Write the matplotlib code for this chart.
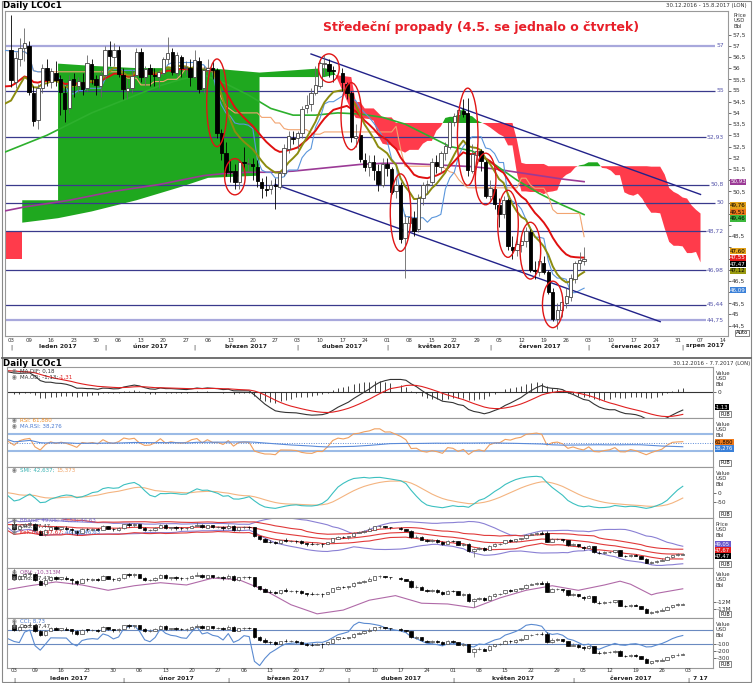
import numpy as np
import pandas as pd
import matplotlib
matplotlib.use("Agg")
import matplotlib.pyplot as plt
from matplotlib.patches import Ellipse, Rectangle
from matplotlib.lines import Line2D

plt.rcParams['font.family'] = ['DejaVu Sans']

W, H = 753, 683

# ---------------- data ----------------
holidays = ["2017-01-02", "2017-04-14"]

opens = [56.60,
         56.82, 55.40, 56.40, 56.90,
         57.00, 54.90, 53.70, 55.10, 56.00,
         55.40, 55.80, 55.50, 54.90, 54.20,
         55.50, 55.20, 55.40, 55.10, 56.20,
         55.50, 55.20, 55.70, 56.80, 56.50,
         56.80, 55.70, 55.00, 55.10, 55.70,
         56.70, 55.60, 56.00, 55.70, 55.60,
         55.80, 56.40, 56.70, 55.80, 56.50,
         56.00, 56.00, 55.60, 56.30, 55.10,
         55.90, 56.00, 55.90, 53.10, 52.20,
         51.40, 51.40, 50.90, 51.80, 51.70,
         51.70, 51.60, 50.90, 50.60, 50.60,
         50.80, 50.70, 51.30, 52.40, 52.90,
         52.90, 53.10, 54.20, 54.40, 54.90,
         55.20, 56.20, 56.20, 55.90,
         55.80, 55.30, 54.90, 52.90, 53.00,
         51.90, 51.60, 51.80, 51.40, 50.80,
         51.70, 51.50, 50.50, 50.80, 48.40,
         49.10, 49.30, 48.80, 50.20, 50.80,
         50.90, 51.80, 51.60, 52.20, 52.50,
         53.60, 53.90, 54.10, 54.00, 51.40,
         52.10, 52.30, 51.80, 50.30, 50.60,
         49.90, 49.50, 50.10, 48.00, 47.90,
         48.10, 48.30, 48.70, 47.00, 46.90,
         47.30, 46.90, 46.00, 44.80, 45.20,
         45.50, 45.80, 46.60, 47.30, 47.40]
highs = [57.20,
         58.37, 56.70, 57.35, 57.80,
         57.20, 55.20, 55.30, 56.20, 56.40,
         56.00, 56.30, 55.70, 55.20, 55.70,
         55.80, 55.60, 55.80, 56.60, 56.40,
         55.70, 55.90, 57.00, 57.20, 57.10,
         57.00, 56.00, 55.50, 55.90, 56.90,
         56.90, 56.10, 56.20, 56.00, 55.90,
         56.50, 57.40, 56.90, 56.70, 56.60,
         56.30, 56.40, 56.80, 56.50, 56.10,
         56.40, 56.30, 56.00, 53.30, 52.70,
         51.90, 51.70, 51.90, 52.50, 52.00,
         52.00, 51.90, 51.10, 51.20, 51.00,
         51.10, 51.40, 52.60, 53.20, 53.20,
         53.20, 54.30, 54.80, 55.10, 56.10,
         56.30, 56.60, 56.40, 56.10,
         56.00, 55.40, 55.00, 53.50, 53.20,
         52.20, 52.10, 52.10, 51.70, 52.00,
         52.00, 51.60, 51.10, 50.90, 49.50,
         49.90, 49.60, 50.40, 50.90, 51.00,
         52.00, 52.10, 52.30, 52.70, 53.70,
         54.00, 54.30, 54.60, 54.67, 52.60,
         52.60, 52.40, 51.90, 51.00, 50.80,
         50.20, 50.30, 50.20, 48.50, 48.50,
         48.50, 48.90, 48.80, 47.40, 47.50,
         47.60, 47.00, 46.20, 45.50, 45.80,
         46.20, 46.80, 47.40, 47.80, 48.00]
lows = [56.40,
        55.17, 55.10, 56.10, 56.30,
        54.80, 53.40, 53.30, 54.90, 55.20,
        55.10, 55.20, 53.90, 53.60, 54.00,
        54.70, 54.90, 54.80, 55.00, 55.30,
        54.80, 54.70, 55.50, 56.10, 56.10,
        55.60, 54.60, 54.60, 54.90, 55.60,
        55.40, 55.20, 55.20, 55.20, 55.10,
        55.70, 56.20, 55.70, 55.60, 55.60,
        55.70, 55.20, 55.50, 54.90, 54.90,
        55.40, 55.50, 52.90, 51.90, 51.20,
        50.90, 50.60, 50.60, 51.40, 51.40,
        51.00, 50.70, 50.20, 50.30, 50.40,
        49.70, 50.60, 51.20, 52.20, 52.60,
        52.40, 52.90, 54.00, 54.10, 54.80,
        55.10, 55.70, 55.60, 55.40,
        55.00, 54.60, 52.70, 52.50, 51.80,
        51.40, 51.20, 51.00, 50.50, 50.70,
        51.20, 50.40, 50.20, 48.20, 46.64,
        48.90, 48.50, 48.70, 49.90, 50.40,
        50.80, 51.30, 51.30, 51.90, 52.40,
        53.40, 53.60, 53.80, 51.20, 51.30,
        51.90, 51.40, 50.20, 50.10, 49.70,
        48.90, 49.30, 47.90, 47.50, 47.60,
        47.80, 48.00, 46.90, 46.60, 46.70,
        46.80, 45.90, 44.70, 44.35, 44.90,
        45.30, 45.60, 46.40, 47.00, 47.20]
closes = [56.82,
          55.47, 56.46, 56.89, 57.10,
          54.94, 53.64, 55.10, 56.01, 55.45,
          55.86, 55.47, 54.92, 54.16, 55.49,
          55.23, 55.44, 55.08, 56.24, 55.52,
          55.23, 55.70, 56.80, 56.56, 56.81,
          55.72, 55.05, 55.12, 55.63, 56.70,
          55.59, 55.97, 55.75, 55.65, 55.81,
          56.40, 56.66, 55.84, 56.58, 55.99,
          56.01, 55.59, 56.36, 55.08, 55.90,
          56.01, 55.92, 53.11, 52.19, 51.37,
          51.35, 50.92, 51.81, 51.77, 51.76,
          51.62, 50.96, 50.64, 50.56, 50.80,
          50.75, 51.33, 52.42, 52.96, 52.83,
          53.12, 54.17, 54.36, 54.89, 55.24,
          56.23, 56.23, 55.86, 55.89,
          55.36, 54.89, 52.93, 52.99, 51.96,
          51.60, 51.82, 51.44, 50.82, 51.73,
          51.52, 50.46, 50.79, 48.38, 49.10,
          49.34, 48.73, 50.22, 50.77, 50.84,
          51.82, 51.65, 52.21, 52.51, 53.61,
          53.87, 54.15, 53.96, 51.46, 52.15,
          52.32, 51.84, 50.31, 50.63, 49.95,
          49.47, 50.12, 48.06, 47.86, 48.15,
          48.29, 48.72, 46.99, 46.92, 47.37,
          46.91, 46.02, 44.82, 45.22, 45.54,
          45.83, 46.65, 47.31, 47.42, 47.47]

# slow lines read every week (weekday slot from 30.12.2016)
week_pos = list(range(0, 131, 5))
purple_val = [49.6, 49.8, 49.95, 50.1, 50.3, 50.5, 50.65, 50.8, 51.0, 51.2, 51.3, 51.35, 51.35,
              51.4, 51.5, 51.6, 51.7, 51.75, 51.75, 51.7, 51.65, 51.6, 51.5, 51.35, 51.2, 51.05, 50.93]
green_val = [52.2, 52.6, 53.0, 53.5, 54.0, 54.4, 54.8, 55.2, 55.5, 55.7, 55.3, 54.8, 54.2,
             53.9, 53.9, 54.0, 53.95, 53.8, 53.5, 53.0, 52.5, 52.3, 51.7, 51.0, 50.4, 49.9, 49.46]

# cloud before the chart's own history is long enough
cloud_pos = [0, 4.5, 4.5, 12.5, 12.5, 20, 30, 40, 46, 57.5, 57.5, 65, 72, 74, 78]
span_a = [47.5, 47.5, 50.1, 50.1, 56.2, 56.1, 56.0, 56.0, 56.0, 55.8, 55.8, 55.9, 56.0, 55.9, 54.1]
span_b = [48.7, 48.7, 49.1, 49.3, 49.3, 49.6, 50.1, 50.7, 51.1, 51.2, 55.6, 55.6, 55.6, 55.7, 55.6]

obv_pos = [0, 5, 10, 15, 20, 25, 30, 35, 40, 45, 50, 55, 60, 65, 70, 75, 80, 85, 90, 95,
           100, 105, 110, 115, 118, 120, 124, 125, 130]
obv_val = [-10.5, -9.9, -9.4, -9.8, -10.5, -9.9, -9.5, -9.8, -8.9, -9.1, -10.5, -12.4, -13.6,
           -13.1, -11.8, -11.2, -12.2, -12.3, -12.8, -11.5, -10.5, -9.9, -10.5, -9.8, -9.3,
           -9.7, -11.1, -10.9, -10.3]

levels = [57, 55, 52.93, 50.8, 50, 48.72, 46.98, 45.44, 44.75]
level_labels = ["57", "55", "52,93", "50,8", "50", "48,72", "46,98", "45,44", "44,75"]
light_levels = [57, 44.75]

trend_upper = (["2017-04-06", "2017-08-07"], [56.63, 50.36])
trend_lower = (["2017-03-27", "2017-07-25"], [50.81, 44.68])

circled_days = ["2017-03-08", "2017-03-14", "2017-04-12", "2017-04-19", "2017-05-04",
                "2017-05-25", "2017-05-31", "2017-06-07", "2017-06-14", "2017-06-21"]

value_tags = [50.93, 49.76, 49.51, 49.46, 47.60, 47.55, 47.47, 47.12, 46.09]
value_colors = ['#9b3a96', '#e3a21a', '#f07a1a', '#3cb83c', '#e3a21a', '#e41b1b', '#000000',
                '#9a9a10', '#3a80d8']

months_main = ["leden 2017", "únor 2017", "březen 2017", "duben 2017", "květen 2017",
               "červen 2017", "červenec 2017", "srpen 2017"]
months_low = ["leden 2017", "únor 2017", "březen 2017", "duben 2017", "květen 2017",
              "červen 2017", "7 17"]

# ---------------- positions ----------------
slots = pd.bdate_range("2016-12-30", "2017-08-18")
slot_of = {d: i for i, d in enumerate(slots)}
days = [d for d in pd.bdate_range("2016-12-30", "2017-06-30") if str(d.date()) not in holidays]
pos = np.array([slot_of[d] for d in days], dtype=float)

o = np.array(opens); h = np.array(highs); l = np.array(lows); c = np.array(closes)
hi, lo, cl = pd.Series(h), pd.Series(l), pd.Series(c)


def rect(x0, y0, x1, y1):
    return [x0 / W, 1 - y1 / H, (x1 - x0) / W, (y1 - y0) / H]


def smooth(values, alpha, seed):
    out, e = [], seed
    for v in values:
        e = e + alpha * (v - e)
        out.append(e)
    return np.array(out)


def candles(a, width, lw=0.6, zorder=5):
    up = c >= o
    wick = ['#666666' if u else '#000000' for u in up]
    a.vlines(pos, l, h, colors=wick, lw=lw, zorder=zorder)
    body = np.maximum(np.abs(c - o), 0.04)
    a.bar(pos[up], body[up], bottom=o[up], width=width, color='white', edgecolor='#444444',
          lw=lw, zorder=zorder + 1)
    a.bar(pos[~up], body[~up], bottom=c[~up], width=width, color='black', edgecolor='black',
          lw=lw, zorder=zorder + 1)


def ftext(x, y, s, **kw):
    fig.text(x / W, 1 - y / H, s, **kw)


def stack(values, gap):
    # group close values, spread each group around its mean, then push apart
    placed, group = [], [values[0]]
    for v in values[1:]:
        if group[-1] - v < gap:
            group.append(v)
        else:
            placed.append(group); group = [v]
    placed.append(group)
    out = []
    for g in placed:
        m = np.mean(g)
        out += [m + ((len(g) - 1) / 2 - k) * gap for k in range(len(g))]
    for i in range(1, len(out)):
        out[i] = min(out[i], out[i - 1] - gap)
    return out


fig = plt.figure(figsize=(W / 100, H / 100), dpi=100)
fig.add_artist(Rectangle((0.002, 0.002), 0.996, 0.996, transform=fig.transFigure,
                         fill=False, ec='#888888', lw=0.8))

# ---------------- main panel ----------------
ax = fig.add_axes(rect(5, 11, 728, 336))
mx0, mx1 = (5 - 2.1) / 4.477, (728 - 2.1) / 4.477
ax.set_xlim(mx0, mx1)
ax.set_ylim(57 - (336 - 45.7) / 22.4, 57 + (45.7 - 11) / 22.4)
for s in ax.spines.values():
    s.set_color('#999999'); s.set_linewidth(0.8)
ax.set_xticks([])

tag_y = stack(value_tags, 0.29)
yt_vals = np.arange(44.5, 57.6, 0.5)
ax.yaxis.tick_right()
ax.set_yticks(yt_vals)
ax.set_yticklabels(["" if min(abs(v - t) for t in tag_y) < 0.3 else ("%g" % v).replace('.', ',')
                    for v in yt_vals])
ax.tick_params(axis='y', length=2, width=0.5, labelsize=4.3, pad=1, colors='#333333')

# ichimoku
tenkan = (hi.rolling(9, min_periods=1).max() + lo.rolling(9, min_periods=1).min()) / 2
kijun = (hi.rolling(26, min_periods=1).max() + lo.rolling(26, min_periods=1).min()) / 2
a_calc = ((tenkan + kijun) / 2).values
b_calc = ((hi.rolling(52, min_periods=1).max() + lo.rolling(52, min_periods=1).min()) / 2).values
ahead = np.concatenate([pos, pos[-1] + np.arange(1, 27)])
x_calc = ahead[26:26 + len(pos)]
keep = x_calc > cloud_pos[-1]
cx = np.concatenate([cloud_pos, x_calc[keep]])
ca = np.concatenate([span_a, a_calc[keep]])
cb = np.concatenate([span_b, b_calc[keep]])
ax.fill_between(cx, ca, cb, where=ca >= cb, color='#1fa81f', interpolate=True, lw=0, zorder=1)
ax.fill_between(cx, ca, cb, where=ca < cb, color='#ff3b4b', interpolate=True, lw=0, zorder=1)

# levels
for v, lab in zip(levels, level_labels):
    light = v in light_levels
    xend_px = 725 - 3.3 * len(lab) - 3
    ax.hlines(v, mx0, (xend_px - 2.1) / 4.477, color='#a8a8dc' if light else '#3a3a8c',
              lw=1.6 if light else 0.9, zorder=2)
    ax.text((724 - 2.1) / 4.477, v, lab, ha='right', va='center', fontsize=4.3,
            color='#5555aa', zorder=3)

ax.plot(week_pos, purple_val, color='#9b3a96', lw=1.2, zorder=3)
ax.plot(week_pos, green_val, color='#2db02d', lw=1.2, zorder=3)
ax.plot(pos, kijun, color='#f2a470', lw=0.8, zorder=3)
ax.plot(pos, tenkan, color='#5a96dc', lw=0.8, zorder=3)
ax.plot(pos, smooth(c, 2 / 21, 55.0), color='#e01010', lw=1.4, zorder=4)
ax.plot(pos, smooth(c, 2 / 11, 53.8), color='#8c8c10', lw=1.4, zorder=4)

for tl in (trend_upper, trend_lower):
    ax.plot([slot_of[pd.Timestamp(d)] for d in tl[0]], tl[1], color='#22228a', lw=1.0, zorder=4)

candles(ax, 0.75)

row_of = {d: i for i, d in enumerate(days)}
for d in circled_days:
    r = row_of[pd.Timestamp(d)]
    ax.add_patch(Ellipse((pos[r], (h[r] + l[r]) / 2), 4.6, (h[r] - l[r]) * 1.15 + 0.35,
                         fill=False, ec='#e01515', lw=1.0, zorder=7))

# value tags on the right
yt = ax.get_yaxis_transform()
for v, yv, col in zip(value_tags, tag_y, value_colors):
    dark = col in ('#000000', '#9b3a96', '#3a80d8', '#e41b1b')
    ax.text(1.003, yv, ("%.2f" % v).replace('.', ','), transform=yt, ha='left', va='center',
            fontsize=4.0, color='white' if dark else 'black',
            bbox=dict(boxstyle='square,pad=0.1', fc=col, ec='none'), zorder=8, clip_on=False)

ftext(733, 13, "Price\nUSD\nBbl", fontsize=3.8, va='top', color='#333333', linespacing=1.1)
ftext(742, 333, "Auto", fontsize=3.8, ha='center', va='center',
      bbox=dict(boxstyle='square,pad=0.15', fc='white', ec='#555555', lw=0.5))
ftext(3, 5, "Daily LCOc1", fontsize=6.3, fontweight='bold', va='center')
ftext(747, 6, "30.12.2016 - 15.8.2017 (LON)", fontsize=3.9, ha='right', va='center', color='#333333')
ftext(481, 27, "Středeční propady (4.5. se jednalo o čtvrtek)", fontsize=9.0, fontweight='bold',
      ha='center', va='center', color='#e8202a')


# ---------------- date axes ----------------
def date_axis(last_day, month_names, y_day, y_month, x_of, xmax):
    ticks = [d for d in slots if d <= pd.Timestamp(last_day) and d.weekday() == 0
             and str(d.date()) not in holidays]
    ticks = [pd.Timestamp("2017-01-03")] + ticks
    for d in ticks:
        ftext(x_of(slot_of[d]), y_day, "%02d" % d.day, fontsize=3.9, ha='center', va='center',
              color='#333333')
    firsts = []
    for m in range(1, len(month_names) + 1):
        ds = [d for d in slots if d.year == 2017 and d.month == m and str(d.date()) not in holidays]
        firsts.append(x_of(slot_of[ds[0]]))
    for i, name in enumerate(month_names):
        x0 = firsts[i]
        x1 = firsts[i + 1] if i + 1 < len(firsts) else xmax
        ftext(x0, y_month + 1, "|", fontsize=4.5, ha='center', va='center', color='#333333')
        ftext((x0 + x1) / 2, y_month, name, fontsize=4.3, fontweight='bold', ha='center',
              va='center', color='#222222')


main_x = lambda i: 4.477 * i + 2.1
low_x = lambda i: 5.224 * i + 3.66
date_axis("2017-08-14", months_main, 340, 346, main_x, 728)

fig.add_artist(Line2D([0.002, 0.998], [1 - 358 / H, 1 - 358 / H], transform=fig.transFigure,
                      color='#666666', lw=1.3))
ftext(3, 363, "Daily LCOc1", fontsize=6.3, fontweight='bold', va='center')
ftext(750, 364, "30.12.2016 - 7.7.2017 (LON)", fontsize=3.9, ha='right', va='center', color='#333333')

# ---------------- lower panels ----------------
edges = [367, 418, 467, 518, 568, 618, 668]
lx0, lx1 = (7 - 3.66) / 5.224, (713 - 3.66) / 5.224
panels = []
for k in range(6):
    p = fig.add_axes(rect(7, edges[k], 713, edges[k + 1]))
    p.set_xlim(lx0, lx1)
    p.set_xticks([])
    for s in p.spines.values():
        s.set_color('#999999'); s.set_linewidth(0.8)
    panels.append(p)
    ftext(716, edges[k] + 4, ("Price" if k == 3 else "Value") + "\nUSD\nBbl", fontsize=3.8,
          va='top', color='#333333', linespacing=1.1)
    ftext(725, edges[k + 1] - 4, "PUB", fontsize=3.5, ha='center', va='center',
          bbox=dict(boxstyle='square,pad=0.15', fc='white', ec='#555555', lw=0.5))
date_axis("2017-07-03", months_low, 671, 679, low_x, 713)


def right_ticks(a, vals, labs):
    a.yaxis.tick_right()
    a.set_yticks(vals)
    a.set_yticklabels(labs)
    a.tick_params(axis='y', length=2, width=0.5, labelsize=4.2, pad=1, colors='#333333')


def overlay(a, lims):
    q = a.twinx()
    q.set_ylim(*lims); q.set_yticks([]); q.set_xlim(lx0, lx1)
    for s in q.spines.values():
        s.set_visible(False)
    candles(q, 0.65, lw=0.5)


def tag(a, y_px, top, txt, col, fc='white'):
    a.text(1.003, 1 - (y_px - top) / (a.bbox.height), txt, transform=a.transAxes, ha='left',
           va='center', fontsize=3.8, color=fc,
           bbox=dict(boxstyle='square,pad=0.1', fc=col, ec='none'), clip_on=False)


def legend(y, parts):
    ftext(14, y, "◉", fontsize=4.0, ha='center', va='center', color='#777777')
    x = 20
    for txt, col in parts:
        ftext(x, y, txt, fontsize=4.0, va='center', color=col)
        x += 2.8 * len(txt)


# MACD
p = panels[0]
e12 = smooth(c, 2 / 13, 55.55)
e26 = smooth(c, 2 / 27, 54.4)
macd = e12 - e26
sig = smooth(macd, 2 / 10, 1.2)
p.set_ylim(-(418 - 392) / 18.0, (392 - 367) / 18.0)
p.axhline(0, color='#333333', lw=0.8)
p.vlines(pos, 0, macd - sig, color='#222222', lw=0.6)
p.plot(pos, macd, color='#333333', lw=0.8)
p.plot(pos, sig, color='#e02020', lw=0.8)
right_ticks(p, [0], ["0"])
tag(p, 407, 367, "-1,13", '#000000')
legend(371, [("MA.DIF: 0,18", '#333333')])
legend(377, [("MA.OD: -1,13; ", '#333333'), ("-1,31", '#e02020')])

# RSI
p = panels[1]
diff = np.diff(c, prepend=c[0])
gain = smooth(np.maximum(diff, 0), 1 / 9, 0.30)
loss = smooth(np.maximum(-diff, 0), 1 / 9, 0.20)
rsi = 100 - 100 / (1 + gain / loss)
ma_rsi = pd.Series(rsi).rolling(30, min_periods=1).mean().values
p.set_ylim(30 - (467 - 451) / 0.425, 70 + (434 - 418) / 0.425)
p.axhline(70, color='#9bbbe6', lw=1.5)
p.axhline(30, color='#9bbbe6', lw=1.5)
p.axhline(50, color='#5a8ad8', lw=0.7, ls=(0, (1, 1.5)))
p.plot(pos, rsi, color='#f0a060', lw=0.8)
p.plot(pos, ma_rsi, color='#5a8ad8', lw=0.8)
p.set_yticks([])
tag(p, 442.5, 418, "61,880", '#f07a1a', 'black')
tag(p, 448.5, 418, "38,276", '#3a80d8')
legend(420, [("RSI: 61,880", '#f0902a')])
legend(426, [("MA.RSI: 38,276", '#4a7ad0')])

# SMI
p = panels[2]
hh = hi.rolling(10, min_periods=1).max(); ll = lo.rolling(10, min_periods=1).min()
dd = (cl - (hh + ll) / 2).ewm(span=3, adjust=False).mean().ewm(span=3, adjust=False).mean()
rr = (hh - ll).ewm(span=3, adjust=False).mean().ewm(span=3, adjust=False).mean()
smi = (100 * dd / (0.5 * rr)).values
smi_sig = pd.Series(smi).ewm(span=10, adjust=False).mean().values
p.set_ylim(-(518 - 493) / 0.18, (493 - 467) / 0.18)
p.plot(pos, smi_sig, color='#f4b480', lw=0.8)
p.plot(pos, smi, color='#3cc0c0', lw=0.8)
right_ticks(p, [0, -50], ["0", "-50"])
legend(470, [("SMI: 42,637; ", '#3cb4b4'), ("15,373", '#f0a060')])

# Bollinger + Keltner
p = panels[3]
p.set_ylim(43.2, 58.8)
sma20 = cl.rolling(20, min_periods=1).mean()
sd20 = cl.rolling(20, min_periods=1).std().fillna(0)
kc_mid = cl.ewm(span=20, adjust=False).mean()
tr = pd.concat([hi - lo, (hi - cl.shift()).abs(), (lo - cl.shift()).abs()], axis=1).max(axis=1)
atr = tr.rolling(10, min_periods=1).mean()
p.plot(pos, sma20 + 2 * sd20, color='#8a80d4', lw=0.8)
p.plot(pos, sma20 - 2 * sd20, color='#8a80d4', lw=0.8)
for band in (kc_mid + 1.5 * atr, kc_mid, kc_mid - 1.5 * atr):
    p.plot(pos, band, color='#e03a3a', lw=0.8)
candles(p, 0.65, lw=0.5)
p.set_yticks([])
tag(p, 544, 518, "49,05", '#6a5acd')
tag(p, 550, 518, "47,67", '#e41b1b')
tag(p, 556, 518, "47,47", '#000000')
legend(520, [("BBand: 49,05; 46,53; 44,63", '#7a6ac8')])
legend(526, [("Cnd: 47,47", '#333333')])
legend(532, [("KelChan: 47,67; ", '#e02020'), ("46,93; 46,63", '#4a7ad0')])

# OBV
p = panels[4]
p.set_ylim(-12 - (618 - 601.7) / 7.6, -12 + (601.7 - 568) / 7.6)
p.plot(obv_pos, obv_val, color='#b06aa8', lw=0.8)
overlay(p, (43.2, 58.8))
right_ticks(p, [-12, -13], ["-12M", "-13M"])
legend(572, [("OBV: -10,313M", '#a0509a')])
legend(578, [("Cnd: 47,47", '#333333')])

# CCI
p = panels[5]
tp = (hi + lo + cl) / 3
tp_ma = tp.rolling(20, min_periods=1).mean()
mad = tp.rolling(20, min_periods=1).apply(lambda x: np.mean(np.abs(x - x.mean())), raw=True)
cci = ((tp - tp_ma) / (0.015 * mad)).fillna(0).replace([np.inf, -np.inf], 0).values
p.set_ylim(-(668 - 636.7) / 0.0718, (636.7 - 618) / 0.0718)
p.axhline(100, color='#6a8ac0', lw=0.8)
p.axhline(-100, color='#6a8ac0', lw=0.8)
p.plot(pos, cci, color='#5a8ad0', lw=0.8)
overlay(p, (43.1, 59.2))
right_ticks(p, [-100, -200, -300], ["-100", "-200", "-300"])
legend(621, [("CCI: 8,73", '#4a7ad0')])
legend(626, [("Cnd: 47,47", '#333333')])

fig.savefig("out.png", dpi=100)
